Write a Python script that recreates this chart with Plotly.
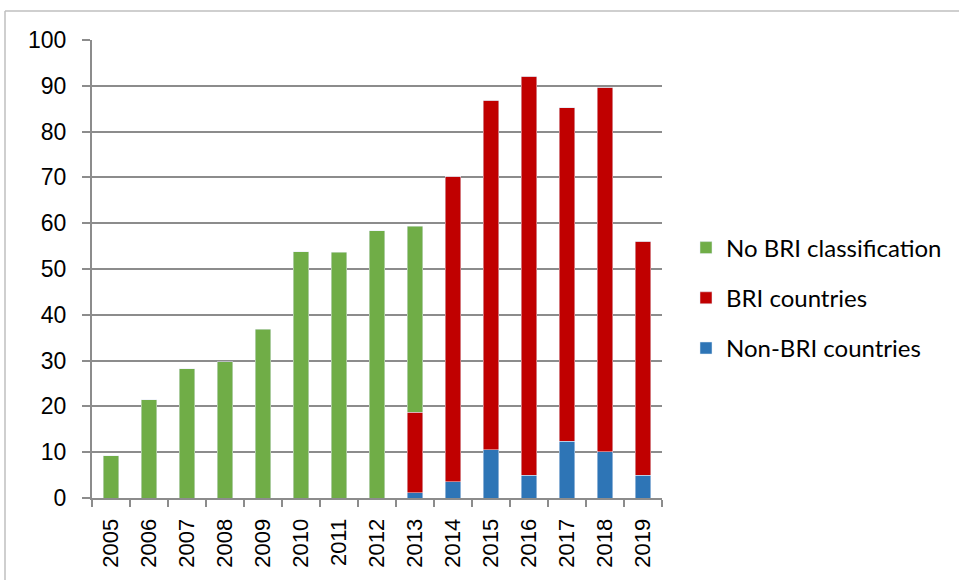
import plotly.graph_objects as go

years = [str(y) for y in range(2005, 2020)]
non_bri = [0, 0, 0, 0, 0, 0, 0, 0, 1.2, 3.6, 10.5, 5.0, 12.4, 10.1, 5.0]
bri = [0, 0, 0, 0, 0, 0, 0, 0, 17.5, 66.7, 76.4, 87.1, 72.8, 79.6, 51.1]
no_class = [9.2, 21.5, 28.2, 29.8, 36.9, 53.8, 53.7, 58.4, 40.6, 0, 0, 0, 0, 0, 0]

green = "#70AD47"
red = "#C00000"
blue = "#2E75B6"

fig = go.Figure()
fig.add_trace(go.Bar(x=years, y=non_bri, name="Non-BRI countries", marker_color=blue,
                     legendgroup="c", legendrank=3, width=0.4))
fig.add_trace(go.Bar(x=years, y=bri, name="BRI countries", marker_color=red,
                     legendgroup="b", legendrank=2, width=0.4))
fig.add_trace(go.Bar(x=years, y=no_class, name="No BRI classification", marker_color=green,
                     legendgroup="a", legendrank=1, width=0.4))

L, R, T, B = 92, 662, 40, 498
W, H = 959, 580
pw, ph = R - L, B - T

def px2x(px):
    return (px - L) / pw

def py2y(py):
    return (B - py) / ph

frame = dict(type="line", xref="paper", yref="paper", line=dict(color="#BFBFBF", width=1.5))
shapes = [
    dict(frame, x0=px2x(5), x1=px2x(5), y0=py2y(11), y1=py2y(580)),
    dict(frame, x0=px2x(5), x1=px2x(959), y0=py2y(11), y1=py2y(11)),
]

fig.update_layout(
    barmode="stack",
    width=W, height=H,
    margin=dict(l=L, r=W - R, t=T, b=H - B, autoexpand=False),
    plot_bgcolor="white",
    paper_bgcolor="white",
    font=dict(family="Liberation Sans, Arial, sans-serif", color="black"),
    shapes=shapes,
    showlegend=True,
    legend=dict(
        x=px2x(686), xanchor="left",
        y=py2y(298), yanchor="middle",
        traceorder="grouped",
        tracegroupgap=16,
        font=dict(family="Lato, Carlito, sans-serif", size=24, color="black"),
        itemwidth=30,
        bgcolor="rgba(0,0,0,0)",
    ),
    yaxis=dict(
        range=[0, 100], dtick=10,
        showgrid=True, gridcolor="#8C8C8C", gridwidth=2,
        showline=True, linecolor="#8C8C8C", linewidth=2,
        ticks="outside", ticklen=8, tickcolor="#8C8C8C", tickwidth=2,
        tickfont=dict(size=23),
        ticklabelstandoff=11,
        zeroline=False,
    ),
    xaxis=dict(
        showline=True, linecolor="#8C8C8C", linewidth=2,
        ticks="outside", ticklen=7, tickcolor="#8C8C8C", tickwidth=2,
        tickson="boundaries",
        tickangle=-90,
        tickfont=dict(size=22),
        ticklabelstandoff=10,
        showgrid=False,
    ),
)

fig.write_html("out.html", config={"displayModeBar": False},
               post_script="document.body.style.margin='0';document.body.style.overflow='hidden';")
